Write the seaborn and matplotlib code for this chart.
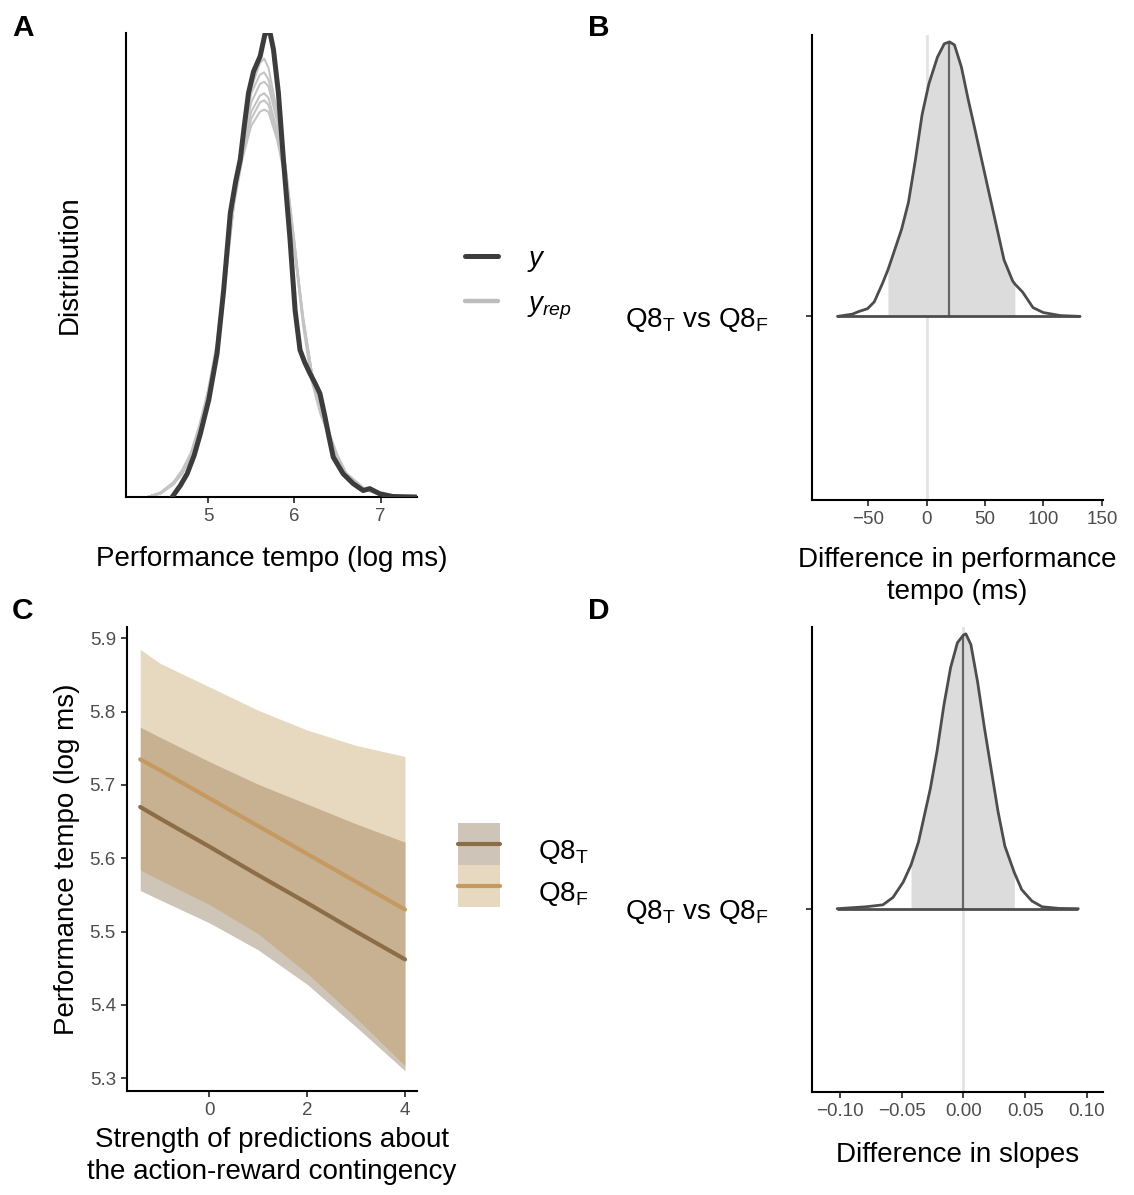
import matplotlib.pyplot as plt
from matplotlib.lines import Line2D
from matplotlib.patches import Patch, Rectangle
from matplotlib.legend_handler import HandlerTuple, HandlerPatch
import seaborn as sns
import pandas as pd

# ---- Panel A: posterior predictive check (density of y and y_rep) ----
y_x = [4.585, 4.68, 4.758, 4.84, 4.912, 5.008, 5.104, 5.181, 5.258, 5.32, 5.373,
       5.42, 5.469, 5.527, 5.604, 5.662, 5.719, 5.758, 5.815, 5.873, 5.95, 6.008,
       6.065, 6.12, 6.181, 6.24, 6.296, 6.354, 6.40, 6.45, 6.565, 6.68, 6.796,
       6.873, 6.988, 7.14, 7.41]
y_dens = [0, 0.025, 0.05, 0.09, 0.137, 0.209, 0.309, 0.446, 0.612, 0.68, 0.727,
          0.80, 0.871, 0.917, 0.95, 1.0, 1.0, 0.964, 0.871, 0.727, 0.554, 0.403,
          0.317, 0.29, 0.266, 0.245, 0.223, 0.173, 0.13, 0.086, 0.05, 0.029, 0.014,
          0.018, 0.007, 0.001, 0]

rep_x = [4.3, 4.45, 4.6, 4.7, 4.8, 4.9, 5.0, 5.1, 5.2, 5.3, 5.4, 5.5, 5.6, 5.65,
         5.7, 5.8, 5.9, 6.0, 6.1, 6.2, 6.3, 6.4, 6.5, 6.6, 6.8, 7.0, 7.3]
rep_1 = [0, 0.008, 0.03, 0.055, 0.09, 0.15, 0.22, 0.32, 0.48, 0.63, 0.73, 0.80, 0.83, 0.835,
         0.83, 0.77, 0.68, 0.53, 0.38, 0.27, 0.19, 0.13, 0.08, 0.05, 0.017, 0.005, 0]
rep_2 = [0, 0.01, 0.032, 0.058, 0.095, 0.155, 0.23, 0.33, 0.49, 0.64, 0.75, 0.83, 0.865, 0.87,
         0.86, 0.79, 0.69, 0.54, 0.39, 0.27, 0.195, 0.14, 0.085, 0.05, 0.018, 0.006, 0]
rep_3 = [0, 0.009, 0.028, 0.05, 0.088, 0.145, 0.22, 0.31, 0.47, 0.64, 0.76, 0.85, 0.89, 0.895,
         0.885, 0.81, 0.70, 0.55, 0.385, 0.26, 0.19, 0.14, 0.09, 0.052, 0.02, 0.006, 0]
rep_4 = [0, 0.007, 0.027, 0.05, 0.085, 0.14, 0.21, 0.30, 0.46, 0.63, 0.77, 0.87, 0.91, 0.915,
         0.90, 0.82, 0.71, 0.55, 0.38, 0.26, 0.185, 0.135, 0.085, 0.05, 0.017, 0.005, 0]
rep_5 = [0, 0.008, 0.03, 0.054, 0.09, 0.15, 0.22, 0.31, 0.47, 0.64, 0.78, 0.88, 0.935, 0.945,
         0.925, 0.83, 0.71, 0.54, 0.37, 0.25, 0.18, 0.13, 0.08, 0.048, 0.016, 0.005, 0]
rep_6 = [0, 0.009, 0.031, 0.056, 0.092, 0.15, 0.225, 0.32, 0.485, 0.635, 0.74, 0.815, 0.85, 0.855,
         0.845, 0.78, 0.685, 0.535, 0.385, 0.27, 0.19, 0.135, 0.083, 0.05, 0.017, 0.006, 0]
reps = [rep_1, rep_2, rep_3, rep_4, rep_5, rep_6]

# ---- Panel B: posterior of difference in tempo (ms) ----
b_x = [-76.2, -63.6, -57.8, -50.5, -44.7, -37.4, -33.0, -30.1, -21.3, -15.5, -9.6,
       -3.8, 2.0, 9.3, 15.2, 19.6, 23.9, 29.8, 35.6, 41.5, 47.3, 53.1, 59.0, 66.3,
       73.6, 75.6, 82.3, 91.1, 99.9, 114.5, 131.4]
b_dens = [0, 0.008, 0.018, 0.028, 0.053, 0.123, 0.17, 0.206, 0.318, 0.415, 0.568,
          0.735, 0.847, 0.944, 0.993, 1.0, 0.989, 0.909, 0.791, 0.68, 0.568, 0.457,
          0.345, 0.206, 0.13, 0.118, 0.088, 0.032, 0.014, 0.003, 0]
b_interval = (-33.0, 75.6)
b_median = 19.6

# ---- Panel D: posterior of difference in slopes ----
d_x = [-0.1023, -0.079, -0.0653, -0.0571, -0.0488, -0.0425, -0.0365, -0.031, -0.0269,
       -0.0214, -0.0159, -0.0104, -0.0049, 0.0, 0.0019, 0.006, 0.0115, 0.017, 0.0225,
       0.028, 0.0335, 0.0412, 0.0472, 0.0554, 0.0637, 0.0774, 0.093]
d_dens = [0, 0.007, 0.014, 0.041, 0.097, 0.159, 0.242, 0.353, 0.436, 0.574, 0.74,
          0.878, 0.968, 0.996, 1.0, 0.961, 0.823, 0.657, 0.505, 0.353, 0.228, 0.131,
          0.069, 0.028, 0.007, 0.001, 0]
d_interval = (-0.0425, 0.0412)
d_median = 0.0

# ---- Panel C: model predictions with 95% ribbons ----
c_x = [-1.41, -1, 0, 1, 2, 3, 4]
t_line = [5.670, 5.654, 5.616, 5.577, 5.539, 5.500, 5.462]
t_low = [5.556, 5.543, 5.512, 5.475, 5.428, 5.370, 5.310]
t_high = [5.779, 5.765, 5.732, 5.701, 5.674, 5.647, 5.622]
f_line = [5.735, 5.720, 5.682, 5.644, 5.606, 5.568, 5.530]
f_low = [5.584, 5.570, 5.537, 5.497, 5.443, 5.382, 5.317]
f_high = [5.885, 5.866, 5.834, 5.802, 5.775, 5.754, 5.739]

sns.set_style('ticks')
plt.rcParams['font.family'] = ['Liberation Sans', 'DejaVu Sans']
plt.rcParams['text.color'] = 'black'
plt.rcParams['axes.labelcolor'] = 'black'
plt.rcParams['mathtext.fontset'] = 'custom'
plt.rcParams['mathtext.rm'] = 'Liberation Sans'
plt.rcParams['mathtext.it'] = 'Liberation Sans:italic'
plt.rcParams['mathtext.bf'] = 'Liberation Sans:bold'

W, H = 1134, 1195
fig = plt.figure(figsize=(W / 100, H / 100), dpi=100)


def box(l, t, r, b):
    return [l / W, 1 - b / H, (r - l) / W, (b - t) / H]


def style(ax):
    sns.despine(ax=ax)
    for s in ['left', 'bottom']:
        ax.spines[s].set_linewidth(1.5)
        ax.spines[s].set_color('black')
    ax.tick_params(axis='both', length=4.5, width=1.3, color='#333333',
                   labelcolor='#4D4D4D', labelsize=13.5, pad=3.5)


dark = '#3C3C3C'
grey = '#C4C4C4'
LBL = 20

# Panel A
axA = fig.add_axes(box(126, 33, 417, 497))
df_rep = pd.DataFrame({'x': rep_x * len(reps),
                       'd': [v for r in reps for v in r],
                       'rep': [i for i, r in enumerate(reps) for _ in r]})
sns.lineplot(data=df_rep, x='x', y='d', units='rep', estimator=None, color=grey,
             lw=1.5, ax=axA, legend=False)
sns.lineplot(x=y_x, y=y_dens, color=dark, lw=3.6, ax=axA, estimator=None, zorder=5)
axA.set_xlim(4.05, 7.42)
axA.set_ylim(0, 1.0)
axA.set_xticks([5, 6, 7])
axA.set_yticks([])
style(axA)
axA.set_xlabel('Performance tempo (log ms)', fontsize=LBL, labelpad=15)
axA.set_ylabel('Distribution', fontsize=LBL, labelpad=31)
handles = [Line2D([], [], color=dark, lw=3.6), Line2D([], [], color='#BDBDBD', lw=3.2)]
fig.legend(handles, ['$y$', '$y_{rep}$'], loc='upper left',
           bbox_to_anchor=(465 / W, 1 - 246 / H), frameon=False, fontsize=LBL,
           borderpad=0, borderaxespad=0, handlelength=1.19, handletextpad=1.04,
           labelspacing=0.62)


def halfeye(ax, xs, dens, interval, median, xlim, xticks):
    ax.axvline(0, color='#E3E3E3', lw=2, zorder=0.5)
    mask = [(interval[0] <= v <= interval[1]) for v in xs]
    ax.fill_between(xs, 0, dens, where=mask, color='#DCDCDC', lw=0, zorder=1)
    sns.lineplot(x=xs, y=dens, color='#4D4D4D', lw=2, ax=ax, estimator=None, zorder=3)
    ax.plot([xs[0], xs[-1]], [0, 0], color='#4D4D4D', lw=2, zorder=3,
            solid_capstyle='butt')
    ax.vlines(median, 0, dens[xs.index(median)], color='#666666', lw=1.6, zorder=2)
    ax.set_xlim(*xlim)
    ax.set_ylim(-0.667, 1.025)
    ax.set_xticks(xticks)
    style(ax)
    ax.set_yticks([0])
    ax.set_yticklabels([r'Q8$_\mathrm{T}$ vs Q8$_\mathrm{F}$'], fontsize=LBL,
                       color='black')
    ax.tick_params(axis='y', pad=27)


# Panel B
axB = fig.add_axes(box(812, 35, 1103, 499.5))
halfeye(axB, b_x, b_dens, b_interval, b_median, (-98, 151), [-50, 0, 50, 100, 150])
axB.set_xlabel('Difference in performance\ntempo (ms)', fontsize=LBL, labelpad=14,
               linespacing=1.3)

# Panel D
axD = fig.add_axes(box(812, 627, 1103, 1092))
halfeye(axD, d_x, d_dens, d_interval, d_median, (-0.1227, 0.113),
        [-0.10, -0.05, 0.0, 0.05, 0.10])
axD.set_xlabel('Difference in slopes', fontsize=LBL, labelpad=16)

# Panel C
t_col, t_fill = '#8B6D48', '#735631'
f_col, f_fill = '#C49A62', '#BD904B'
axC = fig.add_axes(box(127, 627, 417, 1091))
axC.fill_between(c_x, t_low, t_high, color=t_fill, alpha=0.35, lw=0)
axC.fill_between(c_x, f_low, f_high, color=f_fill, alpha=0.35, lw=0)
sns.lineplot(x=c_x, y=t_line, color=t_col, lw=3, ax=axC, estimator=None)
sns.lineplot(x=c_x, y=f_line, color=f_col, lw=3, ax=axC, estimator=None)
axC.set_xlim(-1.68, 4.245)
axC.set_ylim(5.2824, 5.9156)
axC.set_xticks([0, 2, 4])
axC.set_yticks([5.3, 5.4, 5.5, 5.6, 5.7, 5.8, 5.9])
style(axC)
axC.set_xlabel('Strength of predictions about\nthe action-reward contingency',
               fontsize=LBL, labelpad=6, linespacing=1.28)
axC.set_ylabel('Performance tempo (log ms)', fontsize=LBL, labelpad=7)


def key_rect(legend, orig_handle, xdescent, ydescent, width, height, fontsize):
    # centre the key box on the line drawn by the line handler
    return Rectangle((-xdescent, -ydescent / 2), width, height)


c_handles = [(Patch(facecolor=t_fill, alpha=0.35, lw=0), Line2D([], [], color=t_col, lw=3)),
             (Patch(facecolor=f_fill, alpha=0.35, lw=0), Line2D([], [], color=f_col, lw=3))]
fig.legend(c_handles, [r'Q8$_\mathrm{T}$', r'Q8$_\mathrm{F}$'], loc='upper left',
           bbox_to_anchor=(458 / W, 1 - 829 / H), frameon=False, fontsize=LBL,
           borderpad=0, borderaxespad=0, handlelength=1.51, handleheight=1.95,
           handletextpad=1.37, labelspacing=0,
           handler_map={tuple: HandlerTuple(ndivide=1, pad=0),
                        Patch: HandlerPatch(patch_func=key_rect)})

# Panel letters
for lab, x, y in [('A', 12, 36), ('B', 588, 36), ('C', 12, 619), ('D', 588, 619)]:
    fig.text(x / W, 1 - y / H, lab, fontsize=21.5, fontweight='bold', va='baseline')

fig.savefig('out.png', dpi=100)
